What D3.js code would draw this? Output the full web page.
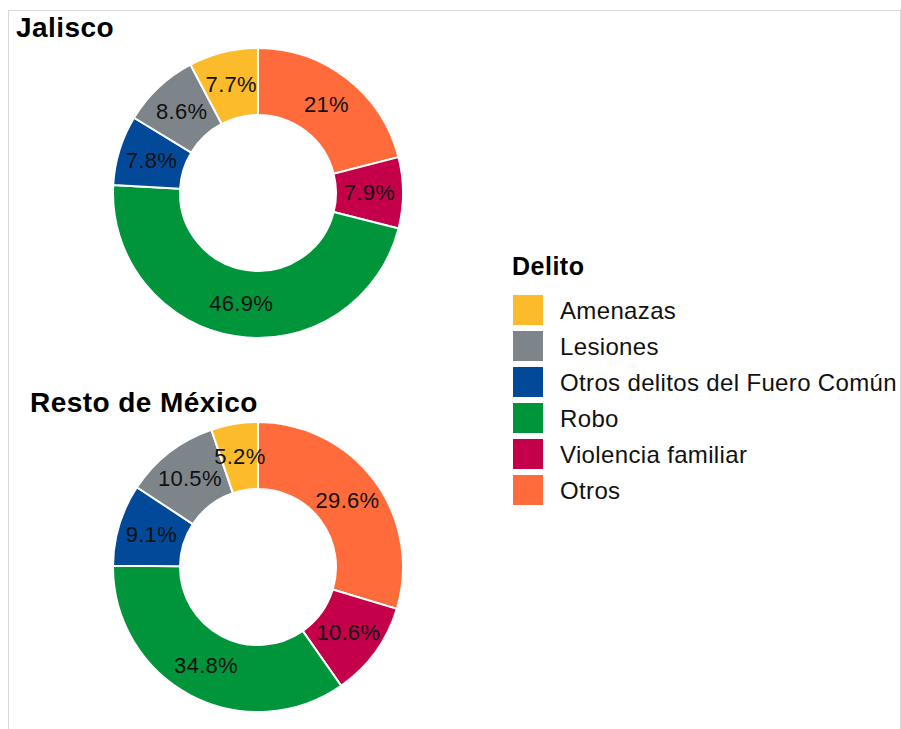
<!DOCTYPE html>
<html>
<head>
<meta charset="utf-8">
<script src="https://cdn.jsdelivr.net/npm/d3@7"></script>
<style>
  body { margin: 0; background: #fff; }
  svg text { font-family: "Liberation Sans", Arial, sans-serif; }
</style>
</head>
<body>
<div id="chart"></div>
<script>
// Legend order (top to bottom) and fill colours.
const categories = ['Amenazas', 'Lesiones', 'Otros delitos del Fuero Común', 'Robo', 'Violencia familiar', 'Otros'];
const colors = ['#fbbb2a', '#7e858a', '#02499a', '#00953b', '#c4004b', '#ff6b3a'];

// Clockwise order of the slices, starting at 12 o'clock.
const sliceOrder = ['Otros', 'Violencia familiar', 'Robo', 'Otros delitos del Fuero Común', 'Lesiones', 'Amenazas'];

// Percentages per panel, in sliceOrder.
const jaliscoValues = [21, 7.9, 46.9, 7.8, 8.6, 7.7];
const restoValues = [29.6, 10.6, 34.8, 9.1, 10.5, 5.2];

const panels = [
  { title: 'Jalisco', values: jaliscoValues, cx: 258, cy: 193, tx: 16, ty: 37 },
  { title: 'Resto de México', values: restoValues, cx: 258, cy: 567, tx: 30, ty: 412 }
];

const width = 901, height = 729;
const outerR = 145, innerR = 78;

const color = d3.scaleOrdinal().domain(categories).range(colors);

const svg = d3.select('#chart').append('svg')
  .attr('width', width)
  .attr('height', height);

// light frame around the plot area (bottom edge falls off the page)
svg.append('rect')
  .attr('x', 8.5).attr('y', 10.5)
  .attr('width', 892).attr('height', 760)
  .attr('fill', 'none')
  .attr('stroke', '#d9d9d9')
  .attr('stroke-width', 1);

const pie = d3.pie().sort(null).value(d => d.value);
const arc = d3.arc().innerRadius(innerR).outerRadius(outerR);

const fmt = v => `${v}%`;

panels.forEach(p => {
  const data = sliceOrder.map((k, i) => ({ key: k, value: p.values[i] }));

  svg.append('text')
    .attr('x', p.tx).attr('y', p.ty)
    .attr('font-size', 28)
    .attr('font-weight', 'bold')
    .attr('letter-spacing', 0.45)
    .attr('fill', '#000')
    .text(p.title);

  const g = svg.append('g').attr('transform', `translate(${p.cx},${p.cy})`);

  const arcs = pie(data);

  g.selectAll('path')
    .data(arcs)
    .join('path')
    .attr('d', arc)
    .attr('fill', d => color(d.data.key))
    .attr('stroke', '#fff')
    .attr('stroke-width', 2);

  g.selectAll('text')
    .data(arcs)
    .join('text')
    .attr('transform', d => `translate(${arc.centroid(d)})`)
    .attr('text-anchor', 'middle')
    .attr('dominant-baseline', 'central')
    .attr('font-size', 22)
    .attr('letter-spacing', 0.3)
    .attr('fill', '#111')
    .text(d => fmt(d.data.value));
});

// legend
const legend = svg.append('g').attr('transform', 'translate(512,0)');

legend.append('text')
  .attr('x', 0).attr('y', 275)
  .attr('font-size', 25)
  .attr('font-weight', 'bold')
  .attr('letter-spacing', 0.5)
  .attr('fill', '#000')
  .text('Delito');

const item = legend.selectAll('g.item')
  .data(categories)
  .join('g')
  .attr('class', 'item')
  .attr('transform', (d, i) => `translate(0,${295 + i * 36})`);

item.append('rect')
  .attr('x', 1).attr('y', 0)
  .attr('width', 30).attr('height', 30)
  .attr('fill', d => color(d));

item.append('text')
  .attr('x', 48).attr('y', 15)
  .attr('dominant-baseline', 'central')
  .attr('font-size', 24)
  .attr('letter-spacing', 0.35)
  .attr('fill', '#111')
  .text(d => d);
</script>
</body>
</html>
